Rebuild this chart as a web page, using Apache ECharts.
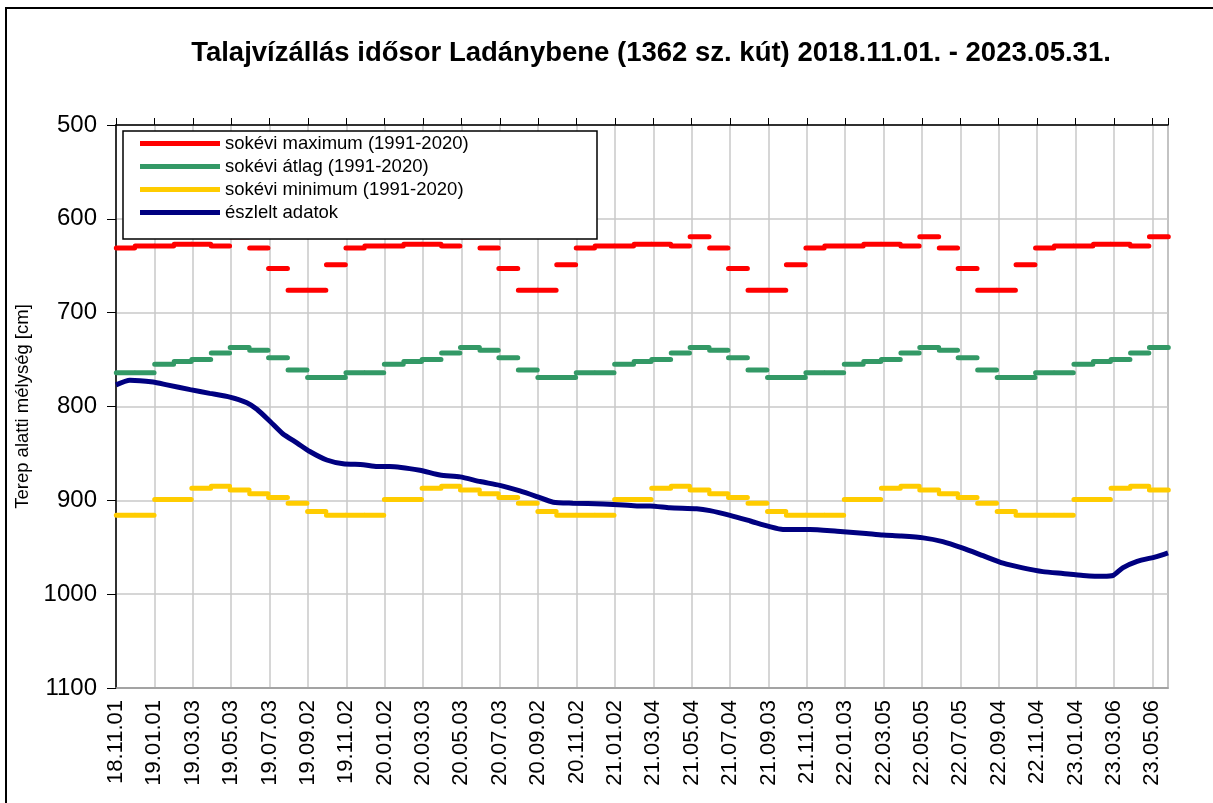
<!DOCTYPE html>
<html>
<head>
<meta charset="utf-8">
<script src="https://cdn.jsdelivr.net/npm/echarts@6/dist/echarts.min.js"></script>
<style>
  html, body { margin: 0; padding: 0; background: #fff; }
  #chart { width: 1213px; height: 803px; }
</style>
</head>
<body>
<div id="chart"></div>
<script>
// sokévi havi értékek (1991-2020), január..december
var monthMax  = [629, 627, 627, 629, 619, 631, 653, 676, 676, 649, 631, 629];
var monthMean = [755, 752, 750, 743, 737, 740, 748, 761, 769, 769, 764, 764];
var monthMin  = [899, 899, 887, 885, 889, 893, 897, 903, 912, 916, 916, 916];

// észlelt adatok
var obsDates = ['2018-11-01','2018-11-23','2018-12-30','2019-01-21','2019-02-27','2019-03-30',
    '2019-05-01','2019-05-28','2019-06-13','2019-07-04','2019-07-24','2019-08-16','2019-09-05',
    '2019-10-02','2019-10-28','2019-11-29','2019-12-21','2020-01-10','2020-02-27','2020-03-30',
    '2020-05-01','2020-06-02','2020-07-03','2020-08-04','2020-08-31','2020-09-26','2020-10-27',
    '2020-12-14','2021-01-15','2021-02-06','2021-02-27','2021-03-30','2021-05-12','2021-06-02',
    '2021-07-04','2021-08-05','2021-09-05','2021-09-26','2021-11-08','2021-12-21','2022-01-31',
    '2022-03-04','2022-03-31','2022-05-07','2022-06-07','2022-07-09','2022-08-10','2022-09-11',
    '2022-10-12','2022-11-13','2022-12-15','2023-01-16','2023-02-17','2023-03-05','2023-03-20',
    '2023-04-12','2023-05-13','2023-05-31'];
var obsValues = [777, 772, 774, 777, 782, 786,
    790, 796, 803, 816, 829, 839, 848,
    857, 861, 862, 864, 864, 868, 873,
    875, 880, 884, 890, 896, 902, 903,
    904, 905, 906, 906, 908, 909, 911,
    916, 922, 928, 931, 931, 933, 935,
    937, 938, 940, 944, 951, 959, 967,
    972, 976, 978, 980, 981, 980, 972,
    965, 960, 956];

var seriesNames = ['sokévi maximum (1991-2020)', 'sokévi átlag (1991-2020)',
    'sokévi minimum (1991-2020)', 'észlelt adatok'];

var START = Date.UTC(2018, 10, 1);
var DAY = 86400000;
var END_DAY = (Date.UTC(2023, 4, 31) - START) / DAY;

function dayIdx(s) {
    var p = s.split('-');
    return (Date.UTC(+p[0], +p[1] - 1, +p[2]) - START) / DAY;
}

function pad(n) { return n < 10 ? '0' + n : '' + n; }

function dayLabel(v) {
    var d = new Date(START + Math.round(v) * DAY);
    return pad(d.getUTCFullYear() % 100) + '.' + pad(d.getUTCMonth() + 1) + '.' + pad(d.getUTCDate());
}

// havi szakaszok: minden hónapra egy vízszintes vonal
function monthSegments(vals) {
    var out = [];
    for (var k = 2018 * 12 + 10; k <= 2023 * 12 + 4; k++) {
        var y = Math.floor(k / 12), m = k % 12;
        var s = (Date.UTC(y, m, 1) - START) / DAY;
        var e = (Date.UTC(y, m + 1, 1) - START) / DAY - 1;
        out.push([s + 0.5, vals[m]]);
        out.push([e + 0.5, vals[m]]);
        out.push([e + 0.5, '-']);
    }
    return out;
}

var obsData = obsDates.map(function (d, i) { return [dayIdx(d), obsValues[i]]; });

var chart = echarts.init(document.getElementById('chart'));

var font = 'Liberation Sans, Arial, sans-serif';

function segSeries(name, color, vals) {
    return {
        name: name,
        type: 'line',
        data: monthSegments(vals),
        showSymbol: false,
        connectNulls: false,
        color: color,
        lineStyle: { color: color, width: 5, cap: 'round' },
        z: 2
    };
}

var option = {
    animation: false,
    backgroundColor: '#fff',
    title: {
        text: 'Talajvízállás idősor Ladánybene (1362 sz. kút) 2018.11.01. - 2023.05.31.',
        left: 646,
        top: 34,
        textAlign: 'center',
        textStyle: { fontFamily: font, fontSize: 27.5, fontWeight: 'bold', color: '#000' }
    },
    graphic: [
        {
            type: 'rect',
            shape: { x: 6, y: 8, width: 1300, height: 900 },
            style: { fill: 'none', stroke: '#000', lineWidth: 2 },
            z: 0
        },
        {
            type: 'rect',
            shape: { x: 123, y: 131, width: 474, height: 108 },
            style: { fill: '#fff', stroke: '#000', lineWidth: 1.5 },
            z: 3
        }
    ],
    legend: {
        data: seriesNames,
        orient: 'vertical',
        left: 140,
        top: 134,
        padding: 0,
        itemWidth: 80,
        itemHeight: 5,
        itemGap: 4,
        icon: 'rect',
        textStyle: { fontFamily: font, fontSize: 18.5, lineHeight: 18, color: '#000' },
        z: 4
    },
    grid: {
        left: 116,
        right: 45,
        top: 125,
        bottom: 115,
        show: true,
        borderColor: '#999',
        borderWidth: 1.5,
        backgroundColor: 'transparent'
    },
    xAxis: [
        {
            type: 'value',
            position: 'bottom',
            min: 0,
            max: END_DAY,
            interval: 61,
            axisLine: { show: true, lineStyle: { color: '#999', width: 1.5 } },
            axisTick: { show: false },
            axisLabel: {
                rotate: 90,
                margin: 12,
                fontFamily: font,
                fontSize: 22,
                color: '#000',
                showMaxLabel: false,
                formatter: dayLabel
            },
            splitLine: { show: true, lineStyle: { color: '#c8c8c8', width: 1.5 } }
        },
        {
            type: 'value',
            position: 'top',
            min: 0,
            max: END_DAY,
            interval: 61,
            axisLine: { show: true, onZero: false, lineStyle: { color: '#000', width: 1.5 } },
            axisTick: { show: true, inside: false, length: 7, lineStyle: { color: '#000' } },
            axisLabel: { show: false },
            splitLine: { show: false }
        }
    ],
    yAxis: {
        type: 'value',
        inverse: true,
        min: 500,
        max: 1100,
        interval: 100,
        name: 'Terep alatti mélység [cm]',
        nameLocation: 'middle',
        nameGap: 84,
        nameTextStyle: { fontFamily: font, fontSize: 18.5, color: '#000' },
        axisLine: { show: true, lineStyle: { color: '#000', width: 1.5 } },
        axisTick: { show: true, inside: false, length: 9, lineStyle: { color: '#000' } },
        axisLabel: {
            fontFamily: font, fontSize: 24, color: '#000', margin: 19,
            formatter: function (v) { return String(v); }
        },
        splitLine: { show: true, lineStyle: { color: '#c8c8c8', width: 1.5 } }
    },
    series: [
        segSeries(seriesNames[0], '#ff0000', monthMax),
        segSeries(seriesNames[1], '#339966', monthMean),
        segSeries(seriesNames[2], '#ffcc00', monthMin),
        {
            name: seriesNames[3],
            type: 'line',
            data: obsData,
            showSymbol: false,
            smooth: 0.2,
            color: '#000080',
            lineStyle: { color: '#000080', width: 5 },
            z: 2
        }
    ]
};

chart.setOption(option);
</script>
</body>
</html>
